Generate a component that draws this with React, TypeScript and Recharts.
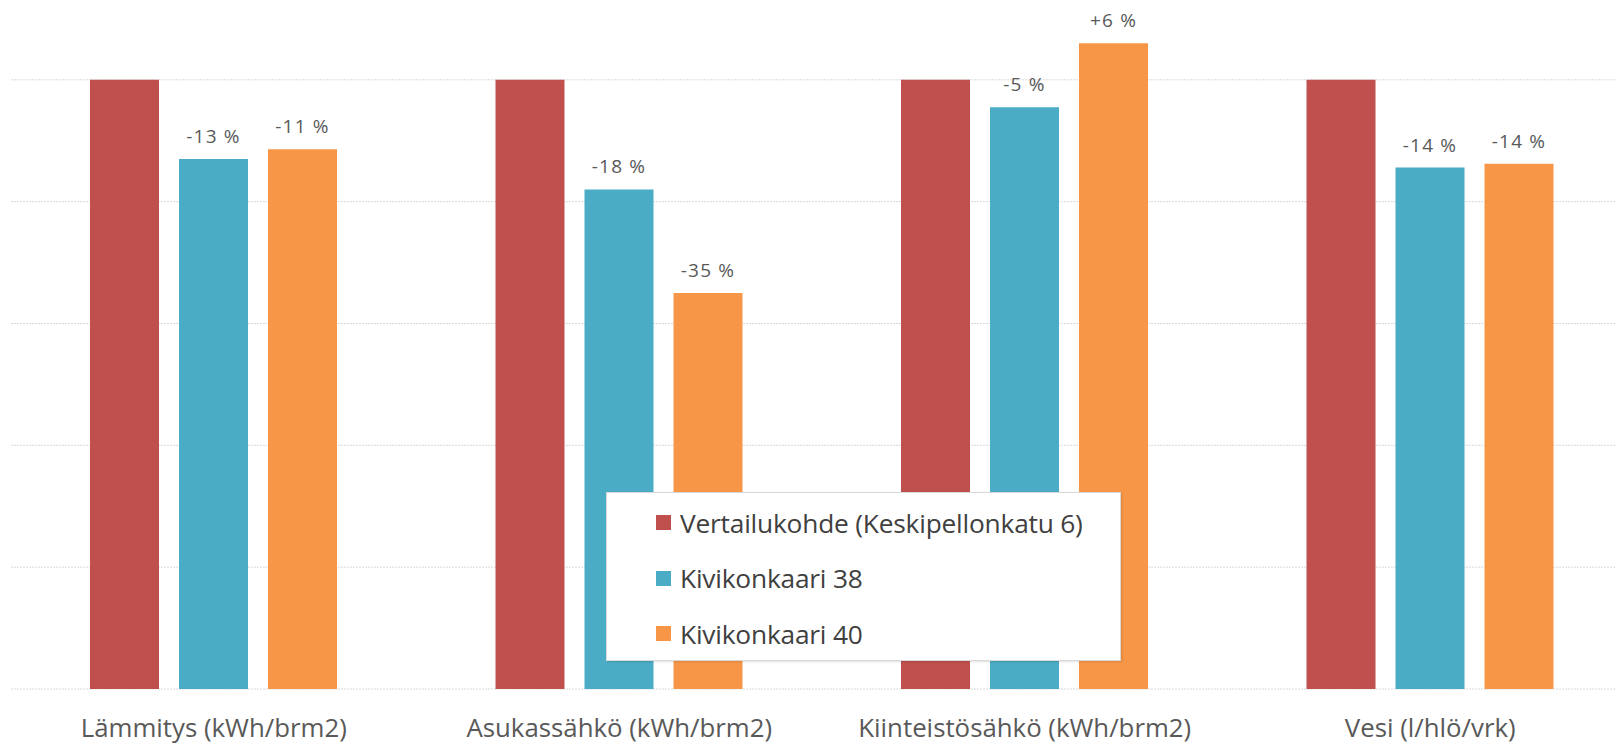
import React from "react";
import { BarChart, Bar, XAxis, YAxis, CartesianGrid, LabelList } from "recharts";

const categories = [
  "Lämmitys (kWh/brm2)",
  "Asukassähkö (kWh/brm2)",
  "Kiinteistösähkö (kWh/brm2)",
  "Vesi (l/hlö/vrk)",
];

const seriesNames = ["Vertailukohde (Keskipellonkatu 6)", "Kivikonkaari 38", "Kivikonkaari 40"];
const seriesColors = ["#C0504D", "#4BACC6", "#F79646"];

const vertailu = [100, 100, 100, 100];
const kivi38 = [87, 82, 95.5, 85.6];
const kivi40 = [88.6, 65, 106, 86.2];

const kivi38Labels = ["-13 %", "-18 %", "-5 %", "-14 %"];
const kivi40Labels = ["-11 %", "-35 %", "+6 %", "-14 %"];

const yTicks = [0, 20, 40, 60, 80, 100];

const data = categories.map((name, i) => ({
  name,
  v0: vertailu[i],
  v1: kivi38[i],
  v2: kivi40[i],
  l1: kivi38Labels[i],
  l2: kivi40Labels[i],
}));

const font = "'Open Sans', sans-serif";

// legend box floats over the bars like in the original
const LegendBox = () => (
  <div
    style={{
      position: "absolute",
      left: 606,
      top: 492,
      width: 515,
      height: 169,
      background: "#fff",
      border: "1px solid #d9d9d9",
      boxShadow: "1px 1px 2px rgba(0,0,0,0.12)",
      boxSizing: "border-box",
      paddingTop: 2,
      fontFamily: font,
    }}
  >
    {seriesNames.map((n, i) => (
      <div key={n} style={{ display: "flex", alignItems: "center", height: 55.5, paddingLeft: 49 }}>
        <span
          style={{ width: 15, height: 15, background: seriesColors[i], display: "inline-block", marginRight: 9 }}
        />
        <span style={{ fontSize: 26.3, color: "#404040", letterSpacing: -0.2 }}>{n}</span>
      </div>
    ))}
  </div>
);

export default function App() {
  return (
    <div style={{ position: "absolute", left: 0, top: 0, width: 1616, height: 744, overflow: "hidden", background: "#fff" }}>
      <BarChart
        width={1640}
        height={744}
        data={data}
        margin={{ top: 0, right: 7, left: 11, bottom: 0 }}
        barSize={69}
        barGap={20}
      >
        <CartesianGrid vertical={false} stroke="#d9d9d9" strokeDasharray="2 1" horizontalValues={yTicks} />
        <XAxis
          dataKey="name"
          height={55}
          axisLine={false}
          tickLine={false}
          tickMargin={24}
          tick={{ fill: "#595959", fontSize: 25.8, fontFamily: font }}
        />
        <YAxis hide domain={[0, 113.1]} ticks={yTicks} />
        <Bar dataKey="v0" fill={seriesColors[0]} isAnimationActive={false} />
        <Bar dataKey="v1" fill={seriesColors[1]} isAnimationActive={false}>
          <LabelList dataKey="l1" position="top" offset={16} fill="#595959" fontSize={19} fontFamily={font} letterSpacing={1.2} />
        </Bar>
        <Bar dataKey="v2" fill={seriesColors[2]} isAnimationActive={false}>
          <LabelList dataKey="l2" position="top" offset={16} fill="#595959" fontSize={19} fontFamily={font} letterSpacing={1.2} />
        </Bar>
      </BarChart>
      <LegendBox />
    </div>
  );
}
